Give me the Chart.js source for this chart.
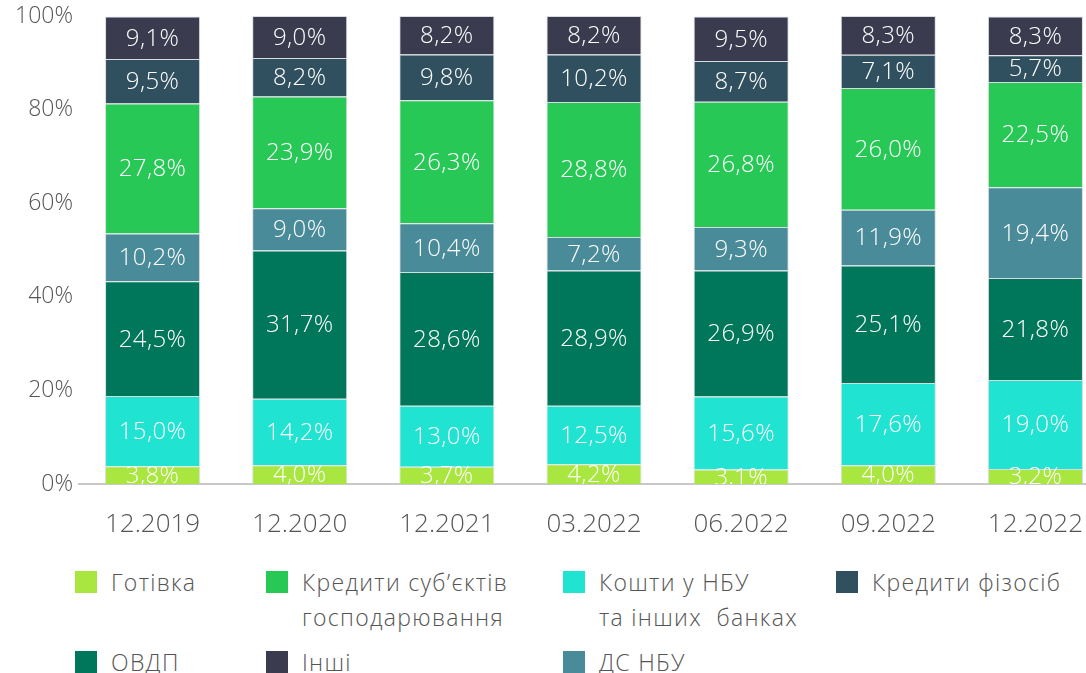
<!DOCTYPE html>
<html>
<head>
<meta charset="utf-8">
<script src="https://cdn.jsdelivr.net/npm/chart.js@4"></script>
<style>
  html, body { margin: 0; padding: 0; background: #fff; }
  body { width: 1086px; height: 673px; overflow: hidden; position: relative; font-family: "Open Sans", sans-serif; }
  #wrap { position: absolute; left: 0; top: 0; width: 1110px; height: 545px; }
  .lg { position: absolute; color: #555; font-size: 23px; font-weight: 300; letter-spacing: 1.3px; line-height: 35px; white-space: pre; }
  .lg i { position: absolute; left: -36px; top: 6px; width: 22px; height: 22px; }
</style>
</head>
<body>
<div id="wrap"><canvas id="chart" width="1110" height="545"></canvas></div>
<div id="legend"></div>
<script>
// Категорії та ряди
const labels = ['12.2019', '12.2020', '12.2021', '03.2022', '06.2022', '09.2022', '12.2022'];
const yTicks = [0, 20, 40, 60, 80, 100];

const gotivka   = [3.8, 4.0, 3.7, 4.2, 3.1, 4.0, 3.2];
const koshtyNbu = [15.0, 14.2, 13.0, 12.5, 15.6, 17.6, 19.0];
const ovdp      = [24.5, 31.7, 28.6, 28.9, 26.9, 25.1, 21.8];
const dsNbu     = [10.2, 9.0, 10.4, 7.2, 9.3, 11.9, 19.4];
const kredSub   = [27.8, 23.9, 26.3, 28.8, 26.8, 26.0, 22.5];
const kredFiz   = [9.5, 8.2, 9.8, 10.2, 8.7, 7.1, 5.7];
const inshi     = [9.1, 9.0, 8.2, 8.2, 9.5, 8.3, 8.3];

// знизу вгору
const series = [
  { name: 'Готівка', data: gotivka, color: '#a9e640' },
  { name: 'Кошти у НБУ\nта інших  банках', data: koshtyNbu, color: '#21e3d1' },
  { name: 'ОВДП', data: ovdp, color: '#00775a' },
  { name: 'ДС НБУ', data: dsNbu, color: '#4a8b99' },
  { name: 'Кредити суб’єктів\nгосподарювання', data: kredSub, color: '#28c857' },
  { name: 'Кредити фізосіб', data: kredFiz, color: '#31505f' },
  { name: 'Інші', data: inshi, color: '#3b3b50' }
];

// легенда: [індекс ряду, x тексту, y]
const legendPos = [
  [0, 111, 565], [4, 302, 565], [1, 599, 565], [5, 872, 565],
  [2, 111, 645], [6, 302, 645], [3, 599, 645]
];

const legendEl = document.getElementById('legend');
legendPos.forEach(([i, x, y]) => {
  const d = document.createElement('div');
  d.className = 'lg';
  d.style.left = x + 'px';
  d.style.top = y + 'px';
  d.innerHTML = '<i style="background:' + series[i].color + '"></i>';
  d.appendChild(document.createTextNode(series[i].name));
  legendEl.appendChild(d);
});

// підписи значень у сегментах
const valueLabels = {
  id: 'valueLabels',
  afterDatasetsDraw(chart) {
    const { ctx, chartArea } = chart;
    ctx.save();
    ctx.beginPath();
    ctx.rect(chartArea.left, chartArea.top - 20, chartArea.right - chartArea.left, chartArea.bottom - chartArea.top + 20);
    ctx.clip();
    ctx.fillStyle = '#ffffff';
    ctx.font = '300 24px "Open Sans"';
    ctx.letterSpacing = '0.4px';
    ctx.textAlign = 'center';
    ctx.textBaseline = 'middle';
    chart.data.datasets.forEach((ds, di) => {
      chart.getDatasetMeta(di).data.forEach((bar, j) => {
        const v = ds.data[j];
        const yc = (bar.y + bar.base) / 2;
        ctx.fillText(v.toFixed(1).replace('.', ',') + '%', bar.x, yc + 1);
      });
    });
    ctx.restore();
  }
};

new Chart(document.getElementById('chart'), {
  type: 'bar',
  data: {
    labels,
    datasets: series.map(s => ({
      label: s.name,
      data: s.data,
      backgroundColor: s.color,
      borderColor: 'rgba(200,205,210,0.7)',
      borderWidth: 1,
      barPercentage: 0.646,
      categoryPercentage: 1
    }))
  },
  options: {
    responsive: false,
    animation: false,
    layout: { padding: { top: 16, right: 1, left: 0, bottom: 0 } },
    plugins: { legend: { display: false }, tooltip: { enabled: false } },
    scales: {
      x: {
        stacked: true,
        grid: { display: false },
        border: { display: true, color: '#c8c8c8', width: 2 },
        ticks: { color: '#555', font: { family: 'Open Sans', size: 26, weight: 300 }, padding: 17 },
        afterFit(scale) { scale.height = 61; }
      },
      y: {
        stacked: true,
        min: 0,
        max: 100,
        afterBuildTicks(scale) { scale.ticks = yTicks.map(v => ({ value: v })); },
        grid: { display: false, drawTicks: false },
        border: { display: false },
        ticks: {
          color: '#555',
          font: { family: 'Open Sans', size: 23, weight: 300 },
          padding: 6,
          callback: v => v + '%'
        },
        afterFit(scale) {
          scale.width = 79;
          scale.paddingTop = 0;
          scale.paddingBottom = 0;
        }
      }
    }
  },
  plugins: [valueLabels]
});
</script>
</body>
</html>
